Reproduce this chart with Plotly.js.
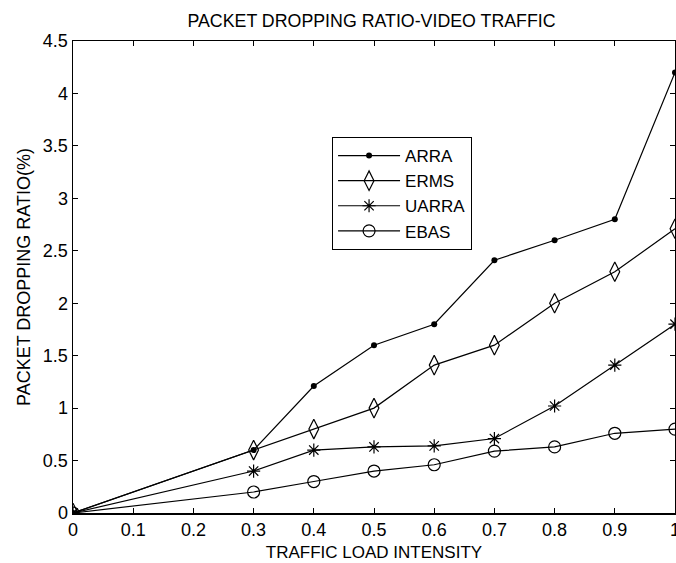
<!DOCTYPE html>
<html>
<head>
<meta charset="utf-8">
<script src="https://cdn.plot.ly/plotly-3.0.1.min.js"></script>
<style>html,body{margin:0;padding:0;background:#fff;}#chart{width:676px;height:563px;}</style>
</head>
<body>
<div id="chart"></div>
<script>
const load = [0, 0.3, 0.4, 0.5, 0.6, 0.7, 0.8, 0.9, 1.0];
const arra  = [0, 0.6, 1.21, 1.6, 1.8, 2.41, 2.6, 2.8, 4.2];
const erms  = [0, 0.6, 0.8, 1.0, 1.41, 1.6, 2.0, 2.3, 2.71];
const uarra = [0, 0.4, 0.6, 0.63, 0.64, 0.71, 1.02, 1.41, 1.8];
const ebas  = [0, 0.2, 0.3, 0.4, 0.46, 0.59, 0.63, 0.76, 0.8];
const seriesNames = ["ARRA", "ERMS", "UARRA", "EBAS"];
const xTicks = [0, 0.1, 0.2, 0.3, 0.4, 0.5, 0.6, 0.7, 0.8, 0.9, 1];
const yTicks = [0, 0.5, 1, 1.5, 2, 2.5, 3, 3.5, 4, 4.5];

const FONT = "Liberation Sans, Arial, sans-serif";
const lineStyle = {color: "#000", width: 1.2};
const traces = [
  {x: load, y: arra, name: seriesNames[0], mode: "lines+markers", line: lineStyle,
   marker: {symbol: "circle", size: 6, color: "#000"}},
  {x: load, y: erms, name: seriesNames[1], mode: "lines+markers", line: lineStyle,
   marker: {symbol: "diamond-tall-open", size: 14, color: "#000", line: {width: 1.2, color: "#000"}}},
  {x: load, y: uarra, name: seriesNames[2], mode: "lines+markers", line: lineStyle,
   marker: {symbol: "asterisk-open", size: 11, color: "#000", line: {width: 1.2, color: "#000"}}},
  {x: load, y: ebas, name: seriesNames[3], mode: "lines+markers", line: lineStyle,
   marker: {symbol: "circle-open", size: 12, color: "#000", line: {width: 1.2, color: "#000"}}}
];

const axisCommon = {
  showline: true, linecolor: "#000", linewidth: 1.5, mirror: "ticks",
  ticks: "inside", ticklen: 5, tickcolor: "#000", tickwidth: 1,
  showgrid: false, zeroline: false, ticklabeloverflow: "allow",
  tickfont: {family: FONT, size: 18, color: "#000"}
};

const layout = {
  width: 676, height: 563,
  margin: {l: 73, r: 1, t: 41, b: 50, pad: 0},
  paper_bgcolor: "#fff", plot_bgcolor: "#fff",
  font: {family: FONT, color: "#000"},
  title: {text: "PACKET DROPPING RATIO-VIDEO TRAFFIC", x: 0.5496, xanchor: "center", y: 0.963, yanchor: "middle",
          font: {family: FONT, size: 17.8, color: "#000"}},
  xaxis: Object.assign({}, axisCommon, {
    range: [0, 1], tickvals: xTicks, ticktext: xTicks.map(String),
    title: {text: "TRAFFIC LOAD INTENSITY", standoff: 7, font: {family: FONT, size: 17, color: "#000"}}
  }),
  yaxis: Object.assign({}, axisCommon, {
    range: [0, 4.5], tickvals: yTicks, ticktext: yTicks.map(String)
  }),
  annotations: [{
    text: "PACKET DROPPING RATIO(%)", textangle: -90, showarrow: false,
    xref: "paper", yref: "paper", x: (24 - 73) / 602, y: (513 - 277) / 472,
    xanchor: "center", yanchor: "middle",
    font: {family: FONT, size: 18, color: "#000"}
  }],
  showlegend: true,
  legend: {
    x: 0.430, y: 0.797, xanchor: "left", yanchor: "top",
    bordercolor: "#000", borderwidth: 1.2, bgcolor: "#fff",
    font: {family: FONT, size: 17, color: "#000"}, tracegroupgap: 0, itemwidth: 62
  }
};

Plotly.newPlot("chart", traces, layout, {displayModeBar: false, staticPlot: true});
</script>
</body>
</html>
